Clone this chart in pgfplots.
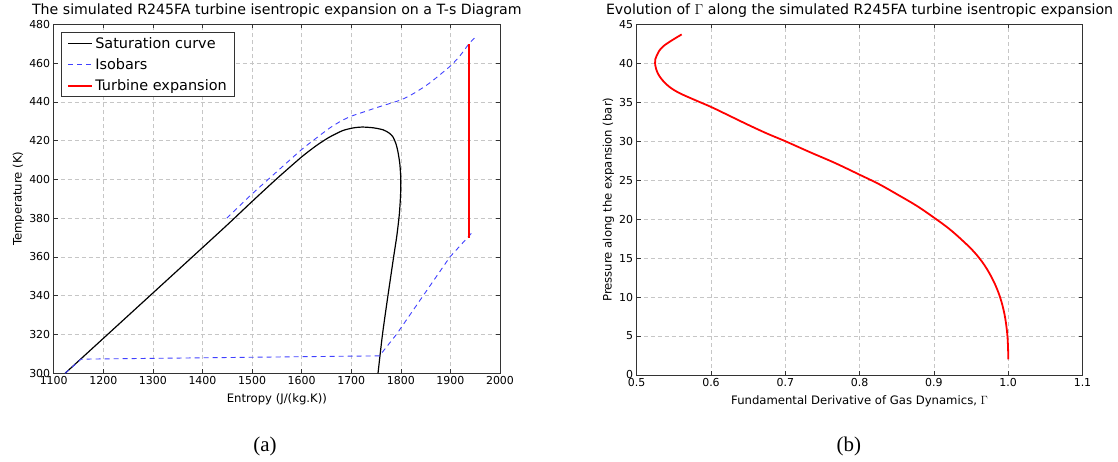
\documentclass[border=0pt]{standalone}
\usepackage{fontspec}
\setmainfont{DejaVu Sans}
\newfontfamily\capfont{Liberation Serif}
\usepackage{pgfplots}
\pgfplotsset{compat=1.18}
\definecolor{isob}{rgb}{0.25,0.25,1}
\pgfplotsset{mystyle/.style={
  scale only axis, clip mode=individual,
  axis line style={draw=black!80, line width=1pt},
  grid=major,
  major grid style={gray!45, dash pattern=on 4bp off 3bp, line width=0.6pt},
  tick align=inside, major tick length=4bp,
  tick style={black!80, line width=0.6pt},
  tick label style={font=\fontsize{11}{12}\selectfont},
  label style={font=\fontsize{11.7}{13}\selectfont},
  title style={font=\fontsize{14.2}{16}\selectfont, at={(0.5,1)}, anchor=base, yshift=4bp},
  /pgf/number format/assume math mode=true,
  /pgf/number format/1000 sep={},
  xlabel style={at={(axis description cs:0.5,0)}, anchor=base, yshift=-29bp},
}}
\begin{document}
\begin{tikzpicture}
\path (0,0) rectangle (1118bp,462bp);
\begin{axis}[mystyle,
  at={(53.7bp,88.7bp)}, anchor=south west,
  width=446.3bp, height=349bp,
  xmin=1100, xmax=2000, ymin=300, ymax=480,
  xtick={1100,1200,...,2000}, ytick={300,320,...,480},
  title={The simulated R245FA turbine isentropic expansion on a T-s Diagram},
  xlabel={Entropy (J/(kg.K))},
  ylabel={Temperature (K)},
  ylabel style={at={(axis description cs:-0.0717,0.5)}, anchor=base},
  legend style={at={(0.0164,0.978)}, anchor=north west, draw=black!80, line width=1pt,
    font=\fontsize{14.5}{15}\selectfont, inner xsep=6bp, inner ysep=3bp, row sep=4.5bp},
  legend cell align=left,
  legend image code/.code={\draw[#1] (0bp,0bp) -- (24bp,0bp);},
]
\addplot[black, line width=1.2pt, smooth, tension=0.4] coordinates {
(1123,300) (1200,318.0) (1300,341.4) (1400,364.8) (1454,377.5) (1500,388.6) (1550,400.4)
(1600,411.6) (1630,417.5) (1656,421.8) (1683,425.2) (1705,426.6) (1723,427)
(1745,426.6) (1764,425.6) (1776,424) (1784,422) (1790,418.5) (1794,414.5) (1798,408)
(1800,400) (1799.5,392) (1797,382) (1792,371) (1785.5,360) (1774,340) (1763,320) (1754,300)};
\addlegendentry{Saturation curve}
\addplot[isob, line width=0.9pt, dash pattern=on 5bp off 4bp, smooth, tension=0.4] coordinates {
(1449,380) (1500,392.5) (1550,404) (1600,415.4) (1630,421.4) (1656,426.4) (1680,430.2)
(1700,432.6) (1723,434.6) (1757,437.5) (1800,441) (1827,444.5) (1858,449.7) (1900,458.5)
(1920,464) (1937.6,470) (1951,473.5)};
\addlegendentry{Isobars}
\addplot[isob, line width=0.9pt, dash pattern=on 5bp off 4bp, forget plot] coordinates {
(1123,300) (1155,307.3) (1757,309) (1791,320) (1845,340) (1899,360) (1947,373.5)};
\addplot[red, line width=1.8pt] coordinates {(1937.6,370) (1937.6,470)};
\addlegendentry{Turbine expansion}
\node[font=\capfont\fontsize{21}{24}\selectfont] at (rel axis cs:0.4735,-0.211) {(a)};
\end{axis}
\begin{axis}[mystyle,
  at={(636.7bp,87bp)}, anchor=south west,
  width=445.8bp, height=350.7bp,
  xmin=0.5, xmax=1.1, ymin=0, ymax=45,
  xtick={0.5,0.6,0.7,0.8,0.9,1.0,1.1}, ytick={0,5,...,45},
  xticklabel style={/pgf/number format/.cd, fixed, fixed zerofill, precision=1},
  title={Evolution of $\Gamma$ along the simulated R245FA turbine isentropic expansion},
  xlabel={Fundamental Derivative of Gas Dynamics, $\Gamma$},
  ylabel={Pressure along the expansion (bar)},
  ylabel style={at={(axis description cs:-0.056,0.5)}, anchor=base},
]
\addplot[red, line width=1.8pt, smooth, tension=0.6] coordinates {
(0.5605,43.7) (0.536,42.2) (0.527,41) (0.5247,40) (0.529,38.6) (0.54,37.3) (0.555,36.3)
(0.578,35.3) (0.6,34.4) (0.624,33.3) (0.650,32.1) (0.675,31.0) (0.7,30) (0.733,28.6)
(0.767,27.2) (0.8,25.7) (0.826,24.5) (0.852,23.1) (0.877,21.7) (0.9,20.2) (0.92,18.8)
(0.938,17.3) (0.954,15.8) (0.968,14.1) (0.980,12.1) (0.989,10) (0.995,7.8) (0.9985,5.5)
(0.9998,3.5) (1.0,2.0)};
\node[font=\capfont\fontsize{21}{24}\selectfont] at (rel axis cs:0.476,-0.205) {(b)};
\end{axis}
\end{tikzpicture}
\end{document}
